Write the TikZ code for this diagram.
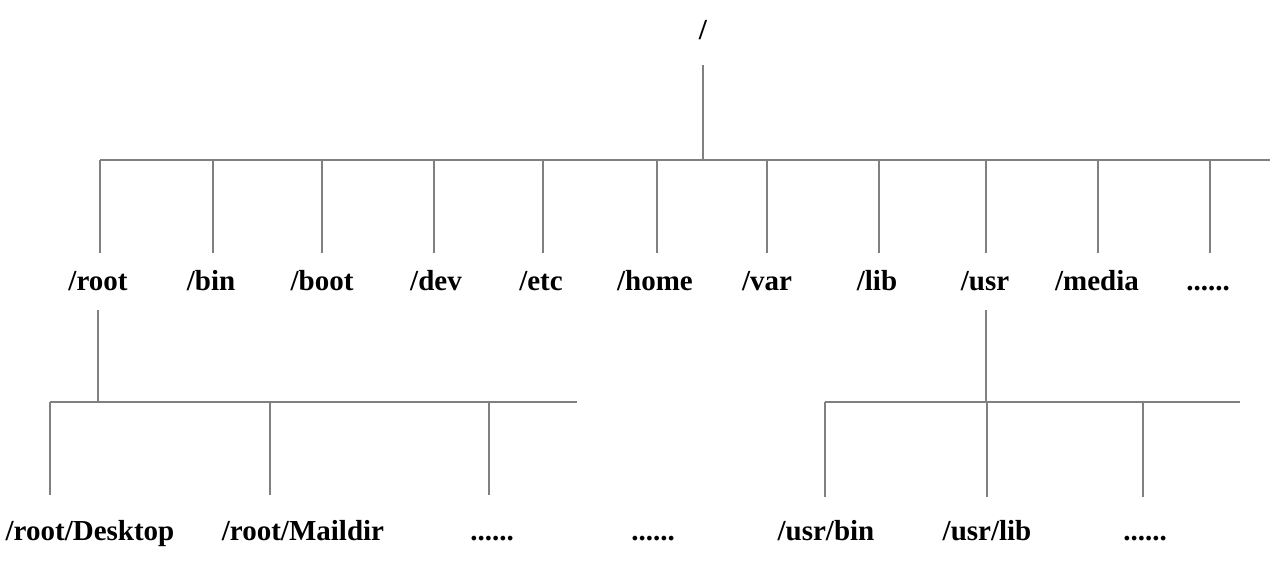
\documentclass[tikz,border=0pt]{standalone}
\usepackage{fontspec}
\setmainfont{Liberation Serif}
\usetikzlibrary{positioning}

\tikzset{
  dir/.style={font=\fontsize{29}{32}\selectfont\bfseries, inner sep=0pt, anchor=base},
  branch/.style={draw=black!50, line width=1.2pt}
}

\begin{document}
\begin{tikzpicture}[x=1pt,y=-1pt]
\useasboundingbox (0,0) rectangle (1281,578);

% Root
\node[dir] (top) at (703,40) {/};
\coordinate (topend) at (703,65);
\coordinate (bar) at (703,160);
\draw[branch] (topend) -- (bar);
\coordinate (barL) at (100,160);
\coordinate (barR) at (1270,160);
\draw[branch] (barL) -- (barR);

% First level
\foreach \name/\lx/\vx/\txt in {root/98/100/{/root}, bin/211/213/{/bin}, boot/322/322/{/boot},
    dev/436/434/{/dev}, etc/541/543/{/etc}, home/655/657/{/home}, var/767/767/{/var},
    lib/877/879/{/lib}, usr/985/986/{/usr}, media/1097/1098/{/media}, more/1208/1210/{......}} {
  \node[dir] (\name) at (\lx,290) {\txt};
  \coordinate (\name up) at (\vx,160);
  \coordinate (\name low) at (\vx,253);
  \draw[branch] (\name up) -- (\name low);
}

% /root subtree
\coordinate (rootA) at (98,310);
\coordinate (rootB) at (98,402);
\draw[branch] (rootA) -- (rootB);
\coordinate (rbarL) at (50,402);
\coordinate (rbarR) at (577,402);
\draw[branch] (rbarL) -- (rbarR);
\foreach \name/\lx/\vx/\txt in {desk/90/50/{/root/Desktop}, mail/303/270/{/root/Maildir},
    rmoreA/492/489/{......}} {
  \node[dir] (\name) at (\lx,540) {\txt};
  \coordinate (\name up) at (\vx,402);
  \coordinate (\name low) at (\vx,495);
  \draw[branch] (\name up) -- (\name low);
}
\node[dir] (rmoreB) at (653,540) {......};

% /usr subtree
\coordinate (usrA) at (986,310);
\coordinate (usrB) at (986,402);
\draw[branch] (usrA) -- (usrB);
\coordinate (ubarL) at (825,402);
\coordinate (ubarR) at (1240,402);
\draw[branch] (ubarL) -- (ubarR);
\foreach \name/\lx/\vx/\txt in {ubin/826/825/{/usr/bin}, ulib/987/987/{/usr/lib},
    umore/1145/1143/{......}} {
  \node[dir] (\name) at (\lx,540) {\txt};
  \coordinate (\name up) at (\vx,402);
  \coordinate (\name low) at (\vx,497);
  \draw[branch] (\name up) -- (\name low);
}

\end{tikzpicture}
\end{document}
